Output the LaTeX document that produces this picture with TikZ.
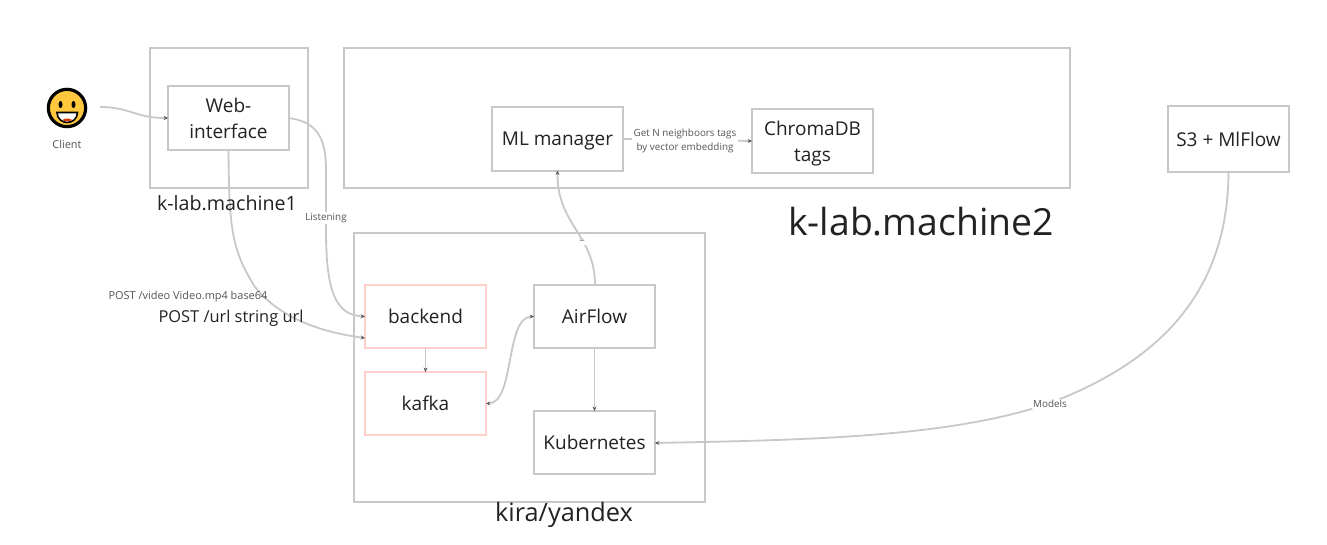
\documentclass[tikz,border=0pt]{standalone}
\usepackage{fontspec}
\setmainfont{Open Sans}
\usetikzlibrary{arrows.meta}
\definecolor{edge}{HTML}{C8C8C8}
\definecolor{pinkedge}{HTML}{FFCFC9}
\definecolor{ink}{HTML}{222222}
\definecolor{soft}{HTML}{555555}
\definecolor{faceyellow}{HTML}{FFC83D}
\definecolor{tongue}{HTML}{D83B01}
\tikzset{
  frame/.style={draw=edge,line width=1.5pt,inner sep=0pt,outer sep=0pt},
  smallbox/.style={frame,fill=white,minimum width=90.75pt,minimum height=47.5pt,align=center,text=ink,text depth=-1.5pt,font=\fontsize{14.25}{19.5}\selectfont},
  pinkbox/.style={smallbox,draw=pinkedge},
  link/.style={draw=edge,line width=1.35pt,-{Stealth[length=3.2pt,width=3pt,color=soft]}},
  twolink/.style={draw=edge,line width=1.35pt,{Stealth[length=3.2pt,width=3pt,color=soft]}-{Stealth[length=3.2pt,width=3pt,color=soft]}},
  tag/.style={fill=white,text=soft,inner sep=1pt,align=center,font=\fontsize{7.4}{10.5}\selectfont},
  free/.style={text=soft,inner sep=0pt,font=\fontsize{8.2}{10}\selectfont},
  caption/.style={text=ink,inner sep=0pt}
}
\begin{document}
\begin{tikzpicture}[x=.75pt,y=-.75pt]
\useasboundingbox (0,0) rectangle (1327,545);
\fill[white] (0,0) rectangle (1327,545);
% containers
\node[frame,minimum width=118.5pt,minimum height=105pt] (m1) at (229,118) {};
\node[frame,minimum width=544.5pt,minimum height=105pt] (m2) at (707,118) {};
\node[frame,minimum width=263.25pt,minimum height=201.75pt] (kira) at (529.5,367.5) {};
% boxes
\node[smallbox] (web) at (228.5,118) {Web-\\interface};
\node[smallbox,minimum width=98.25pt,text depth=-3pt] (ml) at (557.5,139) {ML manager};
\node[smallbox] (chroma) at (812.5,141) {ChromaDB\\tags};
\node[smallbox,minimum height=49.5pt] (s3) at (1228.5,139) {S3 + MlFlow};
\node[pinkbox] (backend) at (425.5,316.5) {backend};
\node[pinkbox] (kafka) at (425.5,403.5) {kafka};
\node[smallbox] (airflow) at (594.5,316.5) {AirFlow};
\node[smallbox] (kube) at (594.5,442.5) {Kubernetes};
% client
\node[circle,draw=black,line width=2.4pt,fill=faceyellow,minimum size=28pt,inner sep=0pt] (face) at (67,108) {};
\fill[black] (60.5,104.5) ellipse (2 and 3.6);
\fill[black] (73.5,104.5) ellipse (2 and 3.6);
\fill[white,draw=black,line width=1.2pt] (57,112.5) -- (77.5,112.5) .. controls (77.5,119) and (72,122.5) .. (67.2,122.5) .. controls (62.5,122.5) and (57,119) .. (57,112.5) -- cycle;
\fill[tongue] (62.5,120) .. controls (65,118) and (69.5,118) .. (72,120) .. controls (70,121.7) and (64.5,121.7) .. (62.5,120) -- cycle;
\node[free] (client) at (67,144) {Client};
\coordinate (clientout) at (100,107);
\coordinate (lowin) at (365,338);
\coordinate (uptop) at (595,285);
\coordinate (kubein) at (655,443);
% connectors
\draw[link] (clientout) .. controls (130,107) and (135,118) .. (web.west);
\draw[link] (web.east) .. controls (315,122) and (326,135) .. (326,170) -- (326,230) .. controls (326,290) and (335,315) .. (backend.west);
\node[tag] (listening) at (326,218) {Listening};
\draw[link] (web.south) .. controls (229,230) and (232,250) .. (255,287) .. controls (280,318) and (320,332) .. (lowin);
\draw[link] (backend.south) -- (kafka.north);
\draw[twolink] (airflow.west) .. controls (505,317) and (515,403) .. (kafka.east);
\draw[link] (airflow.south) -- (kube.north);
\draw[link] (uptop) .. controls (595,235) and (557,225) .. (ml.south);
\node[tag,font=\fontsize{8}{10}\selectfont] (dash) at (582,242) {–};
\draw[link] (ml.east) -- (chroma.west);
\node[tag] (gettag) at (685,141) {Get N neighboors tags\\by vector embedding};
\draw[link] (s3.south) .. controls (1228,300) and (1150,365) .. (1050,403) .. controls (950,438) and (800,440) .. (kubein);
\node[tag] (models) at (1050,404) {Models};
% captions
\node[caption,font=\fontsize{14.75}{18}\selectfont] (c1) at (227,203) {k-lab.machine1};
\node[caption,font=\fontsize{28}{34}\selectfont] (c2) at (921,222) {k-lab.machine2};
\node[caption,font=\fontsize{19}{23}\selectfont] (c3) at (564,515) {kira/yandex};
\node[free] (post1) at (188,296.5) {POST /video Video.mp4 base64};
\node[caption,font=\fontsize{12.3}{15}\selectfont] (post2) at (231,318) {POST /url string url};
\end{tikzpicture}
\end{document}
